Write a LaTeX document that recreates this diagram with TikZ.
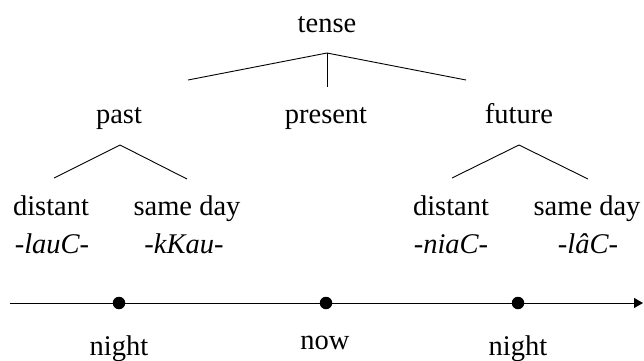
\documentclass[tikz,border=0pt]{standalone}
\usepackage{fontspec}
\setmainfont{Liberation Serif}
\usetikzlibrary{arrows.meta}
\begin{document}
\begin{tikzpicture}[x=1pt,y=-1pt,
  lbl/.style={anchor=base,inner sep=0pt,font=\fontsize{28.5}{32}\selectfont},
  morph/.style={lbl,font=\fontsize{28.5}{32}\selectfont\itshape},
  branch/.style={line width=0.9pt},
  dot/.style={circle,fill=black,inner sep=0pt,minimum size=12.5pt}]
\useasboundingbox (0,0) rectangle (644,360);
% labels
\node[lbl] (tense) at (327,32) {tense};
\node[lbl] (past) at (119,123) {past};
\node[lbl] (present) at (326,123) {present};
\node[lbl] (future) at (519,123) {future};
\node[lbl] (distL) at (51,215) {distant};
\node[lbl] (sameL) at (187,215) {same day};
\node[lbl] (distR) at (451,215) {distant};
\node[lbl] (sameR) at (587,215) {same day};
\node[morph] (mLa) at (52,253) {-lauC-};
\node[morph] (mLb) at (184,253) {-kKau-};
\node[morph] (mRa) at (451,253) {-niaC-};
\node[morph] (mRb) at (588,253) {-lâC-};
% tree points
\coordinate (tApex) at (327,53);
\coordinate (tL) at (188,80);
\coordinate (tM) at (327,87);
\coordinate (tR) at (466,80);
\coordinate (pApex) at (120,145);
\coordinate (pL) at (54,178);
\coordinate (pR) at (187,179);
\coordinate (fApex) at (519,145);
\coordinate (fL) at (452,178);
\coordinate (fR) at (588,179);
\draw[branch] (tL) -- (tApex) -- (tR);
\draw[branch] (tApex) -- (tM);
\draw[branch] (pL) -- (pApex) -- (pR);
\draw[branch] (fL) -- (fApex) -- (fR);
% timeline
\coordinate (tl0) at (10,303);
\coordinate (tl1) at (643,303);
\draw[line width=0.9pt,-{Triangle[length=9pt,width=10pt]}] (tl0) -- (tl1);
\node[dot] (d1) at (119,303) {};
\node[dot] (d2) at (326,303) {};
\node[dot] (d3) at (518,303) {};
\node[lbl] (n1) at (119,355) {night};
\node[lbl] (n2) at (325,349) {now};
\node[lbl] (n3) at (518,355) {night};
\end{tikzpicture}
\end{document}
